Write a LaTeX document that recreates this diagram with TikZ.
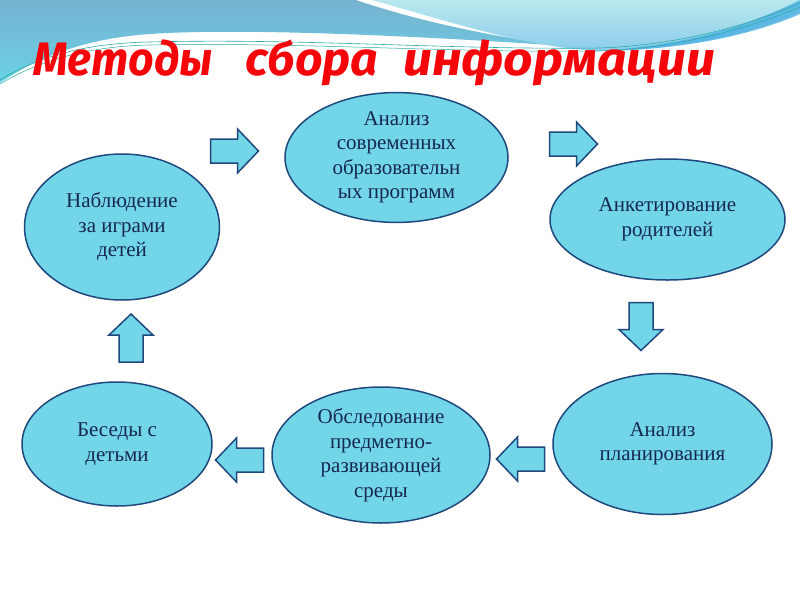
\documentclass[tikz,border=0pt]{standalone}
\usepackage{fontspec}
\usetikzlibrary{shapes.geometric}
\setmainfont{Liberation Serif}
\newfontfamily\titlefont{Fira Sans}
\definecolor{bubfill}{RGB}{114,214,232}
\definecolor{bord}{RGB}{31,73,125}
\definecolor{txt}{RGB}{22,40,80}
\definecolor{ttlred}{RGB}{245,5,10}
\definecolor{bgblueA}{RGB}{118,178,208}
\definecolor{bgblueB}{RGB}{105,210,228}
\definecolor{bgcyanA}{RGB}{185,232,238}
\definecolor{bgcyanB}{RGB}{140,205,236}
\definecolor{bgdeep}{RGB}{75,175,225}
\definecolor{teal}{RGB}{40,170,165}
\newlength\twid
\newcommand\fitword[2]{\settowidth\twid{#2}\scalebox{\fpeval{#1/\twid}}[1]{#2}}
\tikzset{
  bub/.style={ellipse, draw=bord, fill=bubfill, line width=1.5pt, inner sep=0pt,
    align=center, text=txt, font=\fontsize{21}{24.5}\selectfont},
  arrowsty/.style={draw=bord, fill=bubfill, line width=1.5pt, line join=miter},
  pics/barrow/.style={code={
    \draw[arrowsty] (-24,-12) -- (3,-12) -- (3,-22) -- (24,0) -- (3,22) -- (3,12) -- (-24,12) -- cycle;}},
  ttl/.style={anchor=base west, inner sep=0pt, text=ttlred,
    font=\titlefont\bfseries\itshape\fontsize{47}{47}\selectfont}
}
\begin{document}
\begin{tikzpicture}[x=1pt,y=-1pt]
\useasboundingbox (0,0) rectangle (800,600);
\fill[white] (0,0) rectangle (800,600);
% background waves
\shade[top color=bgblueA, bottom color=bgblueB]
  (0,0) -- (356,0) .. controls (420,22) and (500,38) .. (565,46)
  .. controls (450,38) and (250,27) .. (150,34)
  .. controls (90,38) and (40,55) .. (0,83) -- cycle;
\shade[top color=bgcyanA, bottom color=bgcyanB]
  (372,0) -- (800,0) -- (800,12) .. controls (750,35) and (680,50) .. (600,51)
  .. controls (530,48) and (450,22) .. (372,0) -- cycle;
\fill[bgdeep, opacity=0.8]
  (800,0) -- (800,14) .. controls (750,36) and (680,50) .. (600,51)
  .. controls (680,45) and (740,30) .. (800,0) -- cycle;
\draw[teal, line width=0.6pt] (0,80) .. controls (40,55) and (90,43) .. (150,42)
  .. controls (300,38) and (450,50) .. (600,48) .. controls (680,45) and (750,25) .. (800,3);
\draw[teal, line width=0.5pt] (0,84) .. controls (40,60) and (90,46) .. (150,45)
  .. controls (300,42) and (450,53) .. (600,51) .. controls (680,48) and (750,28) .. (800,7);
% title
\node[ttl] (t1) at (33,75) {\fitword{180pt}{Методы}};
\node[ttl] (t2) at (245,75) {\fitword{133pt}{сбора}};
\node[ttl] (t3) at (403,75) {\fitword{312pt}{информации}};
% ellipses
\node[bub, minimum width=195pt, minimum height=146pt] (e1) at (122,227) {Наблюдение\\за играми\\детей};
\node[bub, minimum width=223pt, minimum height=121pt] (e2) at (396.5,157.5) {Анализ\\современных\\образовательн\\ых программ};
\node[bub, minimum width=235pt, minimum height=121pt] (e3) at (667.5,219.5) {Анкетирование\\родителей};
\node[bub, minimum width=219pt, minimum height=141pt] (e4) at (662.5,444) {Анализ\\планирования};
\node[bub, minimum width=218pt, minimum height=136pt] (e5) at (381,455) {Обследование\\предметно-\\развивающей\\среды};
\node[bub, minimum width=190pt, minimum height=124pt] (e6) at (117,444) {Беседы с\\детьми};
% block arrows
\pic (a1) at (234.5,151) {barrow};
\pic (a2) at (573.5,144) {barrow};
\pic[rotate=-90] (a3) at (641,326.5) {barrow};
\pic[rotate=180] (a4) at (520.5,459) {barrow};
\pic[rotate=180] (a5) at (239.5,460) {barrow};
\pic[rotate=90] (a6) at (131,338) {barrow};
\end{tikzpicture}
\end{document}
